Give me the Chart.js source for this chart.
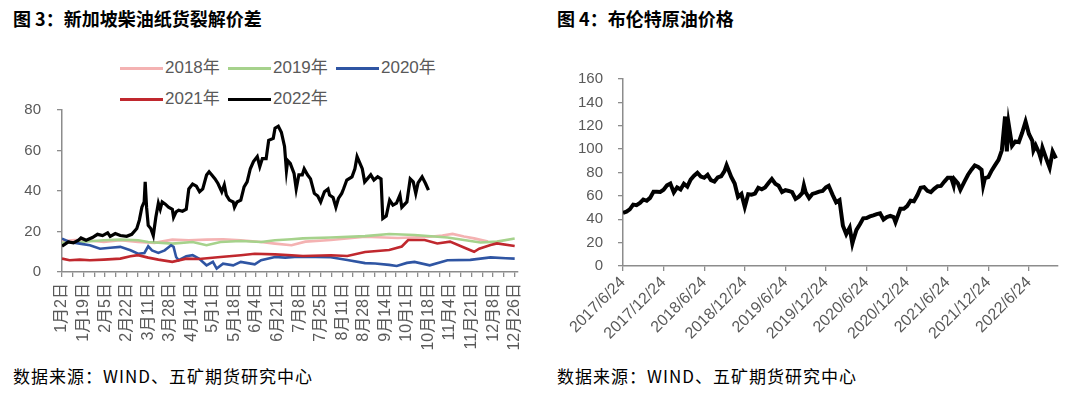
<!DOCTYPE html>
<html><head><meta charset="utf-8">
<script src="https://cdn.jsdelivr.net/npm/chart.js@4.4.0/dist/chart.umd.min.js"></script>
<style>
html,body{margin:0;padding:0;background:#fff;}
body{width:1080px;height:394px;position:relative;overflow:hidden;font-family:"Noto Sans CJK SC",sans-serif;}
.title{position:absolute;top:5px;font-size:18px;line-height:26px;font-weight:700;color:#000;letter-spacing:0px;white-space:nowrap;}
.src{position:absolute;top:364px;font-size:17px;line-height:24px;color:#000;letter-spacing:1px;white-space:nowrap;}
.lg-item{position:absolute;display:flex;align-items:center;white-space:nowrap;font-family:"Liberation Sans","Noto Sans CJK SC",sans-serif;font-size:17px;line-height:20px;color:#595959;transform:translateY(-50%);}
.lg-line{display:inline-block;width:43px;height:3px;margin-right:2px;}
canvas{position:absolute;}
</style></head>
<body>
<div class="title" style="left:13px">图 3：新加坡柴油纸货裂解价差</div>
<div class="title" style="left:557px">图 4：布伦特原油价格</div>
<div id="legend1"></div>
<canvas id="c1" width="540" height="275" style="left:0;top:85px"></canvas>
<canvas id="c2" width="540" height="305" style="left:540px;top:55px"></canvas>
<div class="src" style="left:13px">数据来源：WIND、五矿期货研究中心</div>
<div class="src" style="left:557px">数据来源：WIND、五矿期货研究中心</div>
<script>
// ---------- Figure 3: Singapore gasoil swap crack spread ----------
const seriesNames = ['2018年','2019年','2020年','2021年','2022年'];
const seriesColors = ['#F4B2B2','#A6D28C','#2F55A3','#C0282E','#000000'];
// x tick labels (one every 17 trading days)
const xTickLabels = ['1月2日','1月19日','2月5日','2月22日','3月11日','3月28日','4月14日','5月1日','5月18日','6月4日','6月21日','7月8日','7月25日','8月11日','8月28日','9月14日','10月1日','10月18日','11月4日','11月21日','12月8日','12月26日'];
// [trading-day index, value]
const s2018 = [[0,15.2],[10,15.8],[19,15.7],[33,14.8],[46,15.7],[60,14.8],[73,14.4],[87,16],[100,15.7],[114,16],[127,16.2],[141,15.7],[157,14.8],[168,14],[181,13.2],[192,15],[212,15.8],[239,17.4],[265,16.8],[290,17.4],[300,18],[308,18.8],[317,17.5],[325,16.6],[336,15]];
const s2019 = [[0,14.4],[14,14.8],[33,15.7],[46,16],[60,15.7],[68,14.8],[87,14],[103,14.8],[114,13.2],[125,14.8],[141,15.3],[157,14.8],[168,15.7],[181,16.2],[190,16.6],[212,17],[239,17.7],[258,18.8],[278,18.3],[304,17],[317,15.8],[330,14.6],[343,15],[357,16.5]];
const s2020 = [[0,16.5],[6,14.8],[14,14],[22,13.2],[30,11.5],[38,12],[46,12.4],[54,10.7],[60,9],[65,9.4],[68,12.7],[71,10.7],[76,9.4],[81,10.7],[86,13.2],[88,12.4],[90,7.4],[92,5.8],[98,7.8],[103,8.3],[108,6.6],[114,3.3],[119,5],[122,1.7],[127,4.1],[135,3.3],[141,5],[152,3.8],[157,5.8],[168,7.4],[176,7.1],[186,7.6],[200,7.4],[212,7.3],[225,5.9],[239,4.4],[247,4.2],[258,3.5],[264,3],[272,4.5],[278,5],[290,3.3],[304,5.8],[322,6],[338,7.2],[350,6.8],[357,6.6]];
const s2021 = [[0,6.6],[6,5.8],[14,6.1],[22,5.8],[33,6.1],[46,6.6],[54,7.8],[60,8.3],[68,7.1],[76,6.1],[87,5],[98,6.6],[108,6.4],[125,7.4],[141,8.3],[152,9],[168,8.7],[181,8.3],[190,7.9],[212,8.3],[225,7.9],[239,9.9],[258,10.9],[268,12.6],[273,15.8],[286,15.8],[296,14.1],[306,15],[317,12.1],[325,10],[329,11.5],[338,13.3],[343,14.1],[357,12.8]];
const s2022 = [[0,12.7],[5,14.8],[9,14.4],[13,15.7],[15,16.8],[19,15.7],[24,17],[28,18.6],[32,18],[36,19.3],[38,17.6],[42,19],[46,18],[51,17.6],[55,18.6],[59,21.5],[61,25.6],[63,32],[64.8,34.6],[65.6,44.5],[66.7,32],[68,23],[70,21.5],[72,18],[74,27],[76,34],[77.5,31],[79,34.6],[81.5,33.5],[84,32],[87,31],[88,27],[90,29.7],[92,30.5],[95,30],[98,31],[100,41],[103,43.4],[106,42.4],[108.5,39.6],[111,41],[114,47.9],[116,49.5],[118,48],[120.7,46],[123,43.7],[126,39.6],[128,43],[129.6,38],[132,35.5],[135,34.6],[136,32],[138,34.6],[141,35.5],[143.6,42],[146,44.5],[148.5,51],[151,54.5],[154,57],[156,52],[158,56],[161,56],[163,65],[166.6,66],[168,71],[170.6,72],[173,69],[175.5,62],[177,50],[178,55],[180,53.6],[183,48.7],[184.7,41],[186.8,48],[189.5,48],[191,51],[193.6,48],[196,46],[199,38.8],[201.7,37.5],[204,34.6],[207,39.6],[209.8,41],[211,38],[213.8,36.8],[216,32],[218,36.3],[220.6,38.8],[222,41],[224.6,45.4],[228.7,47],[231,51],[232.7,57],[235,53.6],[236.8,51],[238.7,44.5],[240.8,46],[243.5,48],[246,45.4],[249,47],[251.6,46],[253,26.4],[255.7,27.6],[258.4,35.5],[261,33],[263.8,34],[266.5,38],[268,32],[272,34.6],[274.6,46],[277,44.5],[279,38.8],[280.8,44],[284,47],[286.7,43.7],[289,40.4]];
const seriesData = [s2018, s2019, s2020, s2021, s2022];
const yTicks1 = {min:0, max:80, step:20};

// ---------- Figure 4: Brent crude price ----------
const brentTickLabels = ['2017/6/24','2017/12/24','2018/6/24','2018/12/24','2019/6/24','2019/12/24','2020/6/24','2020/12/24','2021/6/24','2021/12/24','2022/6/24'];
const brentDates = ['2017/6/24','2017/7/9','2017/7/24','2017/8/9','2017/8/24','2017/9/9','2017/9/24','2017/10/9','2017/10/24','2017/11/9','2017/11/24','2017/12/9','2017/12/24',
'2018/1/9','2018/1/24','2018/2/9','2018/2/24','2018/3/9','2018/3/24','2018/4/9','2018/4/24','2018/5/9','2018/5/24','2018/6/9','2018/6/24','2018/7/9','2018/7/24','2018/8/9','2018/8/24','2018/9/9','2018/9/24','2018/10/3','2018/10/24','2018/11/9','2018/11/24','2018/12/9','2018/12/24',
'2019/1/9','2019/1/24','2019/2/9','2019/2/24','2019/3/9','2019/3/24','2019/4/9','2019/4/24','2019/5/9','2019/5/24','2019/6/9','2019/6/24','2019/7/9','2019/7/24','2019/8/9','2019/8/24','2019/9/9','2019/9/16','2019/9/24','2019/10/9','2019/10/24','2019/11/9','2019/11/24','2019/12/9','2019/12/24',
'2020/1/6','2020/1/24','2020/2/9','2020/2/24','2020/3/9','2020/3/24','2020/4/9','2020/4/21','2020/4/24','2020/5/9','2020/5/24','2020/6/9','2020/6/24','2020/7/9','2020/7/24','2020/8/9','2020/8/24','2020/9/9','2020/9/24','2020/10/9','2020/10/24','2020/11/2','2020/11/24','2020/12/9','2020/12/24',
'2021/1/9','2021/1/24','2021/2/9','2021/2/24','2021/3/9','2021/3/24','2021/4/9','2021/4/24','2021/5/9','2021/5/24','2021/6/9','2021/6/24','2021/7/9','2021/7/20','2021/7/24','2021/8/9','2021/8/20','2021/9/9','2021/9/24','2021/10/9','2021/10/24','2021/11/9','2021/11/24','2021/12/1','2021/12/9','2021/12/24',
'2022/1/9','2022/1/24','2022/2/9','2022/2/24','2022/3/8','2022/3/16','2022/3/24','2022/4/9','2022/4/24','2022/5/9','2022/5/24','2022/6/9','2022/6/24','2022/7/9','2022/7/14','2022/7/24','2022/8/9','2022/8/16','2022/8/24','2022/9/9','2022/9/26','2022/10/9','2022/10/24'];
const brentValues = [45.5,46.5,48.5,52.5,52,54,56.9,55.8,58.3,63.5,63.6,63.4,65.2,
69,70.5,63,67.3,65.5,70.4,68,73.9,77.2,79.8,76.5,75.5,78,73.4,72.3,75.8,76.8,81.2,86.3,76.2,70.6,59,61.7,50.5,
61.4,61,62,67,65.7,67.2,71,74.5,70.4,68.7,63.3,64.9,64.2,63.2,57.4,59.3,62.5,69,63.1,58.2,61.7,62.5,63.6,64.3,67.2,
68.6,60.7,54.5,56.3,34.4,27.2,32.8,19.3,21.4,30.9,35.5,40.8,41,42.4,43.3,44.4,45.1,39.8,41.9,42.9,41.8,37.5,48.9,48.9,51.3,
55.9,55.4,60.5,67,67.5,64.4,63.2,66,68.3,68.5,72.2,75.6,75.6,69,74.1,70.7,65.2,72.6,78.1,82.4,86,84.8,82.3,68.9,75.2,76.1,
81.8,86.3,90.8,99,127.9,98,121.6,102.8,106.6,105.9,114,123.6,113,107,99,103.2,96.7,92.3,101.2,92.8,84.1,97.9,92];
const yTicks2 = {min:0, max:160, step:20};

// ---------- shared styling ----------
const AXIS = '#8C8C8C', TXT = '#595959';
const FAM = '"Liberation Sans","Noto Sans CJK SC",sans-serif';
const yFont = {family:FAM, size:15};
const xFont = {family:FAM, size:16};
const monthsFromStart = s => { const [y,m,d] = s.split('/').map(Number); return (y-2017)*12 + (m-6) + (d-24)/30.44; };

// HTML legend for figure 3
(function(){
  const lg = document.getElementById('legend1');
  const rows = [[0,1,2],[3,4]], rowY = [68,99], colX = [120,228,336];
  rows.forEach((r,ri)=>r.forEach((si,ci)=>{
    const it = document.createElement('div'); it.className='lg-item';
    it.style.left = colX[ci]+'px'; it.style.top = rowY[ri]+'px';
    const ln = document.createElement('span'); ln.className='lg-line'; ln.style.background = seriesColors[si];
    it.appendChild(ln); it.appendChild(document.createTextNode(seriesNames[si])); lg.appendChild(it);
  }));
})();

new Chart(document.getElementById('c1'), {
  type:'line',
  data:{datasets: seriesNames.map((n,i)=>({
    label:n, data: seriesData[i].map(p=>({x:p[0], y:p[1]})),
    borderColor: seriesColors[i], borderWidth: i===4 ? 3.2 : 2.6, pointRadius:0, tension:0, fill:false, order: 4-i
  }))},
  options:{
    responsive:false, animation:false, events:[],
    layout:{padding:{top:0, right:22, left:0, bottom:0}},
    plugins:{legend:{display:false}, tooltip:{enabled:false}},
    scales:{
      x:{type:'linear', min:0, max:359,
        afterBuildTicks: s => { const t=[]; for(let k=0;k<=2*(xTickLabels.length-1);k++) t.push({value:k*8.5}); s.ticks=t; },
        ticks:{autoSkip:false, minRotation:90, maxRotation:90, color:TXT, font:xFont, padding:6,
          callback:(v,i)=> i%2===0 ? xTickLabels[i/2] : ''},
        grid:{drawOnChartArea:false, drawTicks:true, tickLength:5, color:AXIS, lineWidth:1.3},
        border:{color:AXIS, width:1.5},
        afterFit: s => { s.height = 88; }
      },
      y:{min:yTicks1.min, max:yTicks1.max,
        ticks:{stepSize:yTicks1.step, color:TXT, font:yFont, padding:16},
        grid:{drawOnChartArea:false, drawTicks:true, tickLength:5, color:AXIS, lineWidth:1.3},
        border:{color:AXIS, width:1.5},
        afterFit: s => { s.width = 62; }
      }
    }
  }
});

new Chart(document.getElementById('c2'), {
  type:'line',
  data:{datasets:[{label:'布伦特原油价格', data: brentDates.map((d,i)=>({x:monthsFromStart(d), y:brentValues[i]})),
    borderColor:'#000', borderWidth:4, pointRadius:0, tension:0, fill:false}]},
  options:{
    responsive:false, animation:false, events:[],
    layout:{padding:{top:0, right:22, left:0, bottom:0}},
    plugins:{legend:{display:false}, tooltip:{enabled:false}},
    scales:{
      x:{type:'linear', min:0, max:64.3,
        afterBuildTicks: s => { s.ticks = brentTickLabels.map(l=>({value:monthsFromStart(l)})); },
        ticks:{autoSkip:false, minRotation:45, maxRotation:45, color:TXT, font:xFont, padding:2,
          callback:(v,i)=> brentTickLabels[i]},
        grid:{drawOnChartArea:false, drawTicks:true, tickLength:5, color:AXIS, lineWidth:1.3},
        border:{color:AXIS, width:1.5},
        afterFit: s => { s.height = 94; }
      },
      y:{min:yTicks2.min, max:yTicks2.max,
        ticks:{stepSize:yTicks2.step, color:TXT, font:yFont, padding:15},
        grid:{drawOnChartArea:false, drawTicks:true, tickLength:5, color:AXIS, lineWidth:1.3},
        border:{color:AXIS, width:1.5},
        afterFit: s => { s.width = 83; }
      }
    }
  }
});
</script>
</body></html>
